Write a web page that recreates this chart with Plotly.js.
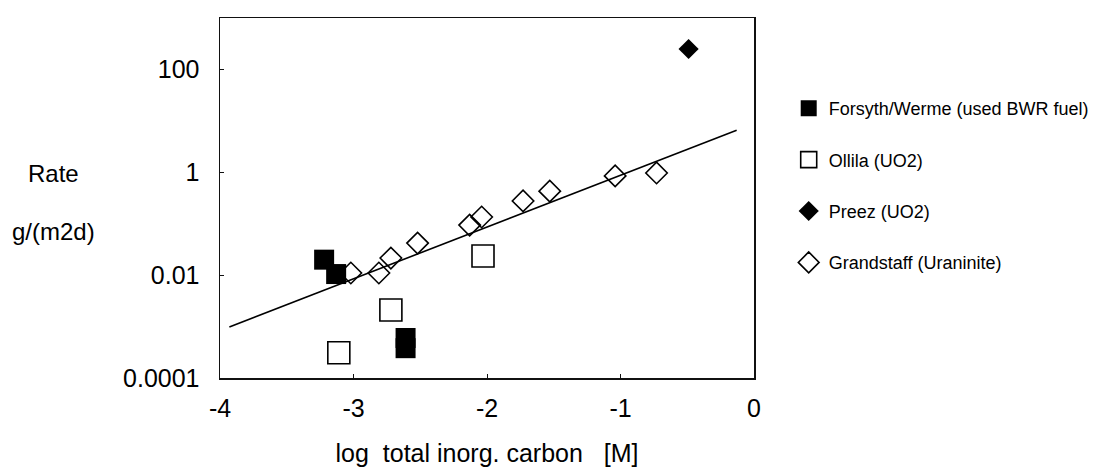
<!DOCTYPE html>
<html>
<head>
<meta charset="utf-8">
<script src="https://cdn.plot.ly/plotly-3.0.1.min.js"></script>
<style>html,body{margin:0;padding:0;background:#fff;}#chart{width:1106px;height:470px;}</style>
</head>
<body>
<div id="chart"></div>
<script>
// Data (x = log total inorganic carbon [M], y = rate g/(m2d))
const seriesNames = ["Forsyth/Werme (used BWR fuel)", "Ollila (UO2)", "Preez (UO2)", "Grandstaff (Uraninite)"];

const forsythX = [-3.22, -3.13, -2.61, -2.61];
const forsythY = [0.020, 0.0105, 0.0006, 0.00038];

const ollilaX = [-3.11, -2.72, -2.03];
const ollilaY = [0.00031, 0.0021, 0.0236];

const preezX = [-0.49];
const preezY = [250];

const grandX = [-3.02, -2.81, -2.72, -2.52, -2.13, -2.04, -1.73, -1.53, -1.04, -0.73];
const grandY = [0.0110, 0.0110, 0.0215, 0.042, 0.094, 0.135, 0.277, 0.43, 0.85, 0.97];

const fitX = [-3.93, -0.13];
const fitY = [0.00098, 6.6];

const yTickVals = [0.0001, 0.01, 1, 100];
const yTickText = ["0.0001", "0.01", "1", "100"];
const xTickVals = [-4, -3, -2, -1, 0];
const xTickText = ["-4", "-3", "-2", "-1", "0"];

const FONT = "Liberation Sans, Arial, Helvetica, sans-serif";

const traces = [
  {x: fitX, y: fitY, mode: "lines", line: {color: "#000", width: 1.6}, showlegend: false, hoverinfo: "skip"},
  {x: forsythX, y: forsythY, name: seriesNames[0], mode: "markers", legendgroup: "a",
   marker: {symbol: "square", size: 20, color: "#000", line: {color: "#000", width: 0}}},
  {x: ollilaX, y: ollilaY, name: seriesNames[1], mode: "markers", legendgroup: "b",
   marker: {symbol: "square-open", size: 22, color: "#000", line: {width: 1.6}}},
  {x: preezX, y: preezY, name: seriesNames[2], mode: "markers", legendgroup: "c",
   marker: {symbol: "diamond", size: 15.5, color: "#000"}},
  {x: grandX, y: grandY, name: seriesNames[3], mode: "markers", legendgroup: "d",
   marker: {symbol: "diamond-open", size: 16.5, color: "#000", line: {width: 1.6}}}
];

const layout = {
  width: 1106, height: 470,
  margin: {l: 220, r: 350, t: 18, b: 92},
  paper_bgcolor: "#fff", plot_bgcolor: "#fff",
  font: {family: FONT, color: "#000", size: 24},
  xaxis: {
    range: [-4, 0], tickvals: xTickVals, ticktext: xTickText,
    showgrid: false, zeroline: false, showline: true, mirror: true,
    linecolor: "#111", linewidth: 1.5, ticks: "inside", ticklen: 4, tickcolor: "#111",
    tickfont: {family: FONT, size: 25}, ticklabelstandoff: 7,
    title: {text: "log\u00a0\u00a0total inorg. carbon\u00a0\u00a0\u00a0[M]", font: {family: FONT, size: 25}, standoff: 24}
  },
  yaxis: {
    type: "log", range: [-4, 3], tickvals: yTickVals, ticktext: yTickText,
    showgrid: false, zeroline: false, showline: true, mirror: true,
    linecolor: "#111", linewidth: 1.5, ticks: "inside", ticklen: 4, tickcolor: "#111",
    tickfont: {family: FONT, size: 25}, ticklabelstandoff: 14
  },
  showlegend: true,
  legend: {
    x: 1.065, xanchor: "left", y: 0.80, yanchor: "top",
    traceorder: "grouped", tracegroupgap: 25,
    font: {family: FONT, size: 18, color: "#000"},
    bgcolor: "rgba(0,0,0,0)", borderwidth: 0
  },
  annotations: [
    {text: "Rate", xref: "paper", yref: "paper", x: (53 - 220) / 536, y: (378 - 173) / 360,
     xanchor: "center", yanchor: "middle", showarrow: false, font: {family: FONT, size: 24}},
    {text: "g/(m2d)", xref: "paper", yref: "paper", x: (53 - 220) / 536, y: (378 - 231) / 360,
     xanchor: "center", yanchor: "middle", showarrow: false, font: {family: FONT, size: 24}}
  ]
};

Plotly.newPlot("chart", traces, layout, {displayModeBar: false, staticPlot: true});
</script>
</body>
</html>
